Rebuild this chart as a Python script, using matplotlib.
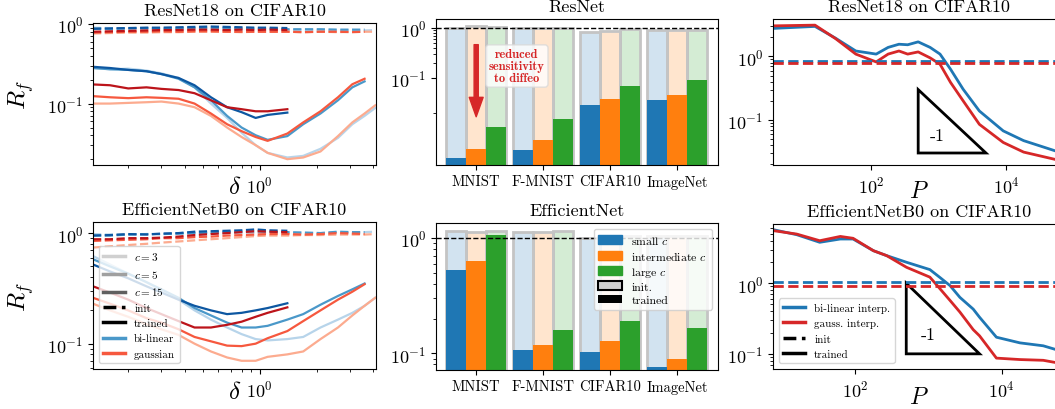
import numpy as np
import matplotlib
matplotlib.use('Agg')
import matplotlib.pyplot as plt
from matplotlib.colors import to_rgba
from matplotlib.lines import Line2D
from matplotlib.patches import Patch, Polygon
from matplotlib.ticker import FixedLocator, NullLocator, NullFormatter

plt.rcParams['font.family'] = 'cmr10'
plt.rcParams['mathtext.fontset'] = 'cm'
plt.rcParams['axes.formatter.use_mathtext'] = True

# ---------------- left column: R_f vs delta ----------------
delta = [0.13, 0.16, 0.2, 0.25, 0.3, 0.37, 0.45, 0.55, 0.67, 0.8, 0.95, 1.1, 1.4,
         1.7, 2.1, 2.6, 3.1, 3.6, 4.1]

# ResNet18 on CIFAR10 (c = 3, 5, 15)
rn_bl_init_c3 = [0.9, 0.89, 0.88, 0.87, 0.86, 0.86, 0.86, 0.85, 0.86, 0.86, 0.86, 0.85, 0.84, 0.84, 0.83, 0.83, 0.84, 0.83, 0.84]
rn_bl_init_c5 = [0.88, 0.87, 0.88, 0.89, 0.88, 0.88, 0.89, 0.9, 0.89, 0.88, 0.88, 0.87, 0.86, 0.86, 0.86, 0.85, 0.85, 0.85]
rn_bl_init_c15 = [0.87, 0.88, 0.89, 0.9, 0.9, 0.91, 0.92, 0.93, 0.92, 0.91, 0.9, 0.9, 0.89]
rn_ga_init_c3 = [0.76, 0.77, 0.78, 0.78, 0.79, 0.79, 0.8, 0.8, 0.8, 0.79, 0.8, 0.8, 0.8, 0.79, 0.8, 0.79, 0.8, 0.8, 0.8]
rn_ga_init_c5 = [0.78, 0.79, 0.8, 0.8, 0.81, 0.8, 0.81, 0.81, 0.8, 0.8, 0.8, 0.8, 0.8, 0.79, 0.8, 0.8, 0.79, 0.8]
rn_ga_init_c15 = [0.8, 0.81, 0.82, 0.83, 0.84, 0.84, 0.85, 0.85, 0.84, 0.85, 0.84, 0.85, 0.84]
rn_bl_tr_c3 = [0.28, 0.27, 0.275, 0.26, 0.24, 0.21, 0.16, 0.1, 0.066, 0.043, 0.03, 0.024, 0.021, 0.022, 0.027, 0.037, 0.055, 0.07, 0.088]
rn_bl_tr_c5 = [0.28, 0.27, 0.265, 0.255, 0.235, 0.205, 0.16, 0.11, 0.07, 0.05, 0.04, 0.035, 0.039, 0.055, 0.075, 0.11, 0.16, 0.19]
rn_bl_tr_c15 = [0.29, 0.28, 0.265, 0.255, 0.235, 0.21, 0.17, 0.12, 0.09, 0.078, 0.066, 0.072, 0.077]
rn_ga_tr_c3 = [0.1, 0.1, 0.102, 0.104, 0.106, 0.1, 0.09, 0.07, 0.05, 0.038, 0.03, 0.024, 0.02, 0.021, 0.025, 0.039, 0.058, 0.075, 0.095]
rn_ga_tr_c5 = [0.124, 0.12, 0.117, 0.12, 0.118, 0.115, 0.1, 0.075, 0.055, 0.045, 0.038, 0.034, 0.042, 0.058, 0.08, 0.12, 0.175, 0.205]
rn_ga_tr_c15 = [0.174, 0.17, 0.155, 0.16, 0.153, 0.148, 0.135, 0.11, 0.09, 0.085, 0.08, 0.08, 0.085]

# EfficientNetB0 on CIFAR10
en_bl_init_c3 = [0.98, 0.97, 0.97, 0.98, 0.98, 0.99, 1.0, 1.0, 1.01, 1.01, 1.0, 1.0, 1.01, 1.01, 1.0, 1.02, 1.01, 1.02, 1.03]
en_bl_init_c5 = [0.95, 0.95, 0.97, 0.98, 0.98, 0.99, 1.0, 1.01, 1.02, 1.03, 1.04, 1.03, 1.02, 1.01, 1.0, 1.03, 1.02, 1.02]
en_bl_init_c15 = [0.95, 0.96, 0.98, 0.97, 0.99, 1.0, 1.03, 1.04, 1.05, 1.06, 1.08, 1.06, 1.05]
en_ga_init_c3 = [0.74, 0.76, 0.78, 0.8, 0.82, 0.84, 0.86, 0.88, 0.9, 0.92, 0.94, 0.95, 0.95, 0.96, 0.96, 0.97, 0.97, 0.97, 0.98]
en_ga_init_c5 = [0.85, 0.86, 0.87, 0.88, 0.9, 0.9, 0.92, 0.93, 0.95, 0.96, 0.97, 0.98, 0.98, 0.97, 0.98, 1.0, 0.99, 0.98]
en_ga_init_c15 = [0.88, 0.88, 0.9, 0.9, 0.91, 0.93, 0.96, 0.98, 1.0, 1.02, 1.04, 1.03, 1.02]
en_bl_tr_c3 = [0.62, 0.52, 0.43, 0.36, 0.3, 0.25, 0.2, 0.165, 0.14, 0.122, 0.11, 0.107, 0.11, 0.115, 0.14, 0.165, 0.19, 0.22, 0.26]
en_bl_tr_c5 = [0.58, 0.5, 0.43, 0.36, 0.31, 0.26, 0.21, 0.18, 0.155, 0.14, 0.14, 0.145, 0.165, 0.185, 0.225, 0.27, 0.31, 0.35]
en_bl_tr_c15 = [0.52, 0.45, 0.39, 0.33, 0.29, 0.25, 0.22, 0.2, 0.185, 0.19, 0.2, 0.21, 0.232]
en_ga_tr_c3 = [0.23, 0.2, 0.175, 0.15, 0.135, 0.12, 0.1, 0.085, 0.075, 0.07, 0.07, 0.076, 0.08, 0.085, 0.11, 0.14, 0.18, 0.22, 0.26]
en_ga_tr_c5 = [0.26, 0.23, 0.2, 0.17, 0.155, 0.135, 0.115, 0.105, 0.096, 0.095, 0.1, 0.112, 0.13, 0.16, 0.2, 0.25, 0.295, 0.345]
en_ga_tr_c15 = [0.33, 0.29, 0.25, 0.21, 0.185, 0.16, 0.14, 0.14, 0.148, 0.158, 0.175, 0.19, 0.213]

# ---------------- middle column: bars ----------------
datasets = ['MNIST', 'F-MNIST', 'CIFAR10', 'ImageNet']
rn_init_small = [1.0, 0.98, 0.84, 0.9]
rn_init_inter = [1.08, 0.99, 0.86, 0.91]
rn_init_large = [1.04, 0.97, 0.93, 0.92]
rn_tr_small = [0.0025, 0.0036, 0.029, 0.036]
rn_tr_inter = [0.0038, 0.0058, 0.038, 0.046]
rn_tr_large = [0.0106, 0.0147, 0.067, 0.089]

en_init_small = [1.14, 1.13, 1.01, 1.05]
en_init_inter = [1.12, 1.12, 1.03, 1.04]
en_init_large = [1.15, 1.14, 1.05, 1.05]
en_tr_small = [0.53, 0.107, 0.102, 0.0755]
en_tr_inter = [0.635, 0.118, 0.128, 0.089]
en_tr_large = [1.06, 0.16, 0.19, 0.165]

# ---------------- right column: R_f vs P ----------------
P_rn = [3.6, 15, 30, 60, 120, 180, 260, 350, 500, 750, 1050, 1500, 2300, 4000, 9000, 18000, 60000]
rn_bl_P = [2.77, 2.98, 1.95, 1.22, 1.09, 1.39, 1.56, 1.53, 1.7, 1.39, 1.09, 0.63, 0.305, 0.138, 0.067, 0.047, 0.031]
rn_ga_P = [3.04, 3.12, 1.92, 1.09, 0.82, 1.09, 1.22, 1.09, 1.18, 0.95, 0.755, 0.39, 0.2, 0.085, 0.044, 0.031, 0.023]
rn_bl_P_init = 0.85
rn_ga_P_init = 0.80

P_en = [7.7, 16, 33, 63, 94, 178, 270, 505, 1050, 1450, 1980, 2700, 4100, 5000, 8500, 17800, 37000, 60000]
en_bl_P = [5.73, 4.87, 3.8, 4.23, 4.23, 2.89, 2.46, 1.98, 1.56, 1.2, 0.925, 0.63, 0.43, 0.33, 0.172, 0.143, 0.13, 0.112]
en_ga_P = [5.55, 4.97, 4.0, 4.6, 4.33, 2.89, 2.46, 1.68, 1.22, 0.83, 0.57, 0.39, 0.22, 0.18, 0.087, 0.083, 0.081, 0.074]
en_bl_P_init = 1.03
en_ga_P_init = 0.925

# slope -1 triangles: corner (P, R_f)
tri_rn = (500, 0.3)
tri_en = (500, 1.0)

blues = [plt.cm.Blues(0.3), plt.cm.Blues(0.6), plt.cm.Blues(0.85)]
reds = [plt.cm.Reds(0.3), plt.cm.Reds(0.55), plt.cm.Reds(0.8)]
bar_cols = ['tab:blue', 'tab:orange', 'tab:green']

fig = plt.figure(figsize=(10.55, 4.10), dpi=100)
W, H = 1055.0, 410.0


def box(x0, y0, x1, y1):
    return [x0 / W, 1 - y1 / H, (x1 - x0) / W, (y1 - y0) / H]


ax_tl = fig.add_axes(box(93, 24, 376, 166))
ax_tm = fig.add_axes(box(436, 20, 718, 166))
ax_tr = fig.add_axes(box(773, 20, 1065, 166))
ax_bl = fig.add_axes(box(93, 223, 376, 370))
ax_bm = fig.add_axes(box(436, 224, 718, 371))
ax_br = fig.add_axes(box(773, 225, 1065, 370))


def draw_delta(ax, init_bl, init_ga, tr_bl, tr_ga, title, ylim):
    for k in range(3):
        for vals, col in ((init_bl[k], blues[k]), (init_ga[k], reds[k])):
            ax.plot(delta[:len(vals)], vals, '--', color=col, lw=1.6)
        for vals, col in ((tr_bl[k], blues[k]), (tr_ga[k], reds[k])):
            ax.plot(delta[:len(vals)], vals, '-', color=col, lw=1.6)
    ax.set_xscale('log')
    ax.set_yscale('log')
    ax.set_xlim(0.13, 4.14)
    ax.set_ylim(*ylim)
    ax.xaxis.set_minor_formatter(NullFormatter())
    ax.yaxis.set_minor_formatter(NullFormatter())
    ax.tick_params(labelsize=13)
    ax.set_title(title, fontsize=13)
    ax.set_xlabel(r'$\delta$', fontsize=18, va='top')
    ax.xaxis.set_label_coords(0.5, -0.08)
    ax.set_ylabel(r'$R_f$', fontsize=18)
    ax.yaxis.set_label_coords(-0.2, 0.5)


draw_delta(ax_tl,
           [rn_bl_init_c3, rn_bl_init_c5, rn_bl_init_c15],
           [rn_ga_init_c3, rn_ga_init_c5, rn_ga_init_c15],
           [rn_bl_tr_c3, rn_bl_tr_c5, rn_bl_tr_c15],
           [rn_ga_tr_c3, rn_ga_tr_c5, rn_ga_tr_c15],
           'ResNet18 on CIFAR10', (0.0169, 1.03))
draw_delta(ax_bl,
           [en_bl_init_c3, en_bl_init_c5, en_bl_init_c15],
           [en_ga_init_c3, en_ga_init_c5, en_ga_init_c15],
           [en_bl_tr_c3, en_bl_tr_c5, en_bl_tr_c15],
           [en_ga_tr_c3, en_ga_tr_c5, en_ga_tr_c15],
           'EfficientNetB0 on CIFAR10', (0.059, 1.26))

leg_handles = [
    Line2D([], [], color='#d0d0d0', lw=2.5, label='$c=3$'),
    Line2D([], [], color='#a0a0a0', lw=2.5, label='$c=5$'),
    Line2D([], [], color='#606060', lw=2.5, label='$c=15$'),
    Line2D([], [], color='k', ls='--', lw=2.5, label='init'),
    Line2D([], [], color='k', lw=2.5, label='trained'),
    Line2D([], [], color=blues[1], lw=2.5, label='bi-linear'),
    Line2D([], [], color=reds[1], lw=2.5, label='gaussian'),
]
ax_bl.legend(handles=leg_handles, loc='lower left', fontsize=8, framealpha=0.8)


def draw_bars(ax, init, trained, title, ylim):
    x = np.arange(len(datasets))
    bw = 0.3
    base = 1e-4
    for k in range(3):
        pos = x + (k - 1) * bw
        ax.bar(pos, np.array(init[k]) - base, bw, bottom=base,
               facecolor=to_rgba(bar_cols[k], 0.2), edgecolor='#c4c4c4', lw=2, zorder=1)
        ax.bar(pos, np.array(trained[k]) - base, bw, bottom=base,
               color=bar_cols[k], lw=0, zorder=2)
    ax.axhline(1, color='k', ls='--', lw=1, zorder=3)
    ax.set_yscale('log')
    ax.set_ylim(*ylim)
    ax.set_xlim(-0.6, 3.61)
    ax.set_xticks(x)
    ax.set_xticklabels(datasets, fontsize=10.5)
    ax.tick_params(axis='y', labelsize=13)
    ax.yaxis.set_minor_formatter(NullFormatter())
    ax.set_title(title, fontsize=13)


draw_bars(ax_tm, [rn_init_small, rn_init_inter, rn_init_large],
          [rn_tr_small, rn_tr_inter, rn_tr_large], 'ResNet', (0.0018, 1.5))
ax_tm.yaxis.set_major_locator(FixedLocator([0.1, 1]))
ax_tm.yaxis.set_minor_locator(FixedLocator([0.02, 0.2, 0.3, 0.4, 0.5, 0.6, 0.7, 0.8, 0.9]))

draw_bars(ax_bm, [en_init_small, en_init_inter, en_init_large],
          [en_tr_small, en_tr_inter, en_tr_large], 'EfficientNet', (0.0716, 1.35))

bar_handles = [
    Patch(color='tab:blue', label='small $c$'),
    Patch(color='tab:orange', label='intermediate $c$'),
    Patch(color='tab:green', label='large $c$'),
    Patch(facecolor='#d0d0d0', edgecolor='k', lw=1.5, label='init.'),
    Patch(facecolor='k', label='trained'),
]
ax_bm.legend(handles=bar_handles, loc='upper right', fontsize=8.5, labelspacing=0.25,
             framealpha=0.8)

# arrow + note on ResNet bars
ax_tm.annotate('', xy=(0.0, 0.0166), xytext=(0.0, 0.46),
               arrowprops=dict(color='#d62728', width=3, headwidth=10, headlength=14, shrink=0),
               zorder=5)
ax_tm.text(0.287, 0.678, 'reduced\nsensitivity\nto diffeo', transform=ax_tm.transAxes,
           ha='center', va='center', color='#d62728', fontsize=9, family='cmb10',
           linespacing=1.0, zorder=6,
           bbox=dict(boxstyle='round,pad=0.25', fc='white', ec='0.85', alpha=0.8))


def draw_P(ax, P, bl, ga, bl_init, ga_init, tri, tri_txt, title, xlim, ylim, xlab_y):
    ax.plot(P, bl, color='tab:blue', lw=2)
    ax.plot(P, ga, color='tab:red', lw=2)
    ax.axhline(bl_init, color='tab:blue', ls='--', lw=2)
    ax.axhline(ga_init, color='tab:red', ls='--', lw=2)
    p0, r0 = tri
    corners = [(p0, r0), (p0, r0 / 10), (p0 * 10, r0 / 10)]
    ax.add_patch(Polygon(corners, closed=True, fill=False, ec='k', lw=2, joinstyle='miter'))
    ax.text(tri_txt[0], tri_txt[1], '-1', fontsize=13, ha='center', va='center')
    ax.set_xscale('log')
    ax.set_yscale('log')
    ax.set_xlim(*xlim)
    ax.set_ylim(*ylim)
    ax.xaxis.set_major_locator(FixedLocator([1e2, 1e4]))
    ax.xaxis.set_minor_locator(NullLocator())
    ax.yaxis.set_minor_formatter(NullFormatter())
    ax.tick_params(labelsize=13)
    ax.set_title(title, fontsize=13)
    ax.set_xlabel('$P$', fontsize=17, va='top')
    ax.xaxis.set_label_coords(0.5, xlab_y)


draw_P(ax_tr, P_rn, rn_bl_P, rn_ga_P, rn_bl_P_init, rn_ga_P_init, tri_rn, (950, 0.058),
       'ResNet18 on CIFAR10', (3.6, 73400), (0.0194, 3.9), -0.105)
draw_P(ax_br, P_en, en_bl_P, en_ga_P, en_bl_P_init, en_ga_P_init, tri_en, (1000, 0.19),
       'EfficientNetB0 on CIFAR10', (7.6, 73300), (0.061, 6.9), -0.115)

P_handles = [
    Line2D([], [], color='tab:blue', lw=2.5, label='bi-linear interp.'),
    Line2D([], [], color='tab:red', lw=2.5, label='gauss. interp.'),
    Line2D([], [], color='k', ls='--', lw=2.5, label='init'),
    Line2D([], [], color='k', lw=2.5, label='trained'),
]
ax_br.legend(handles=P_handles, loc='lower left', fontsize=8, framealpha=0.8)

fig.savefig('out.png', dpi=100)
